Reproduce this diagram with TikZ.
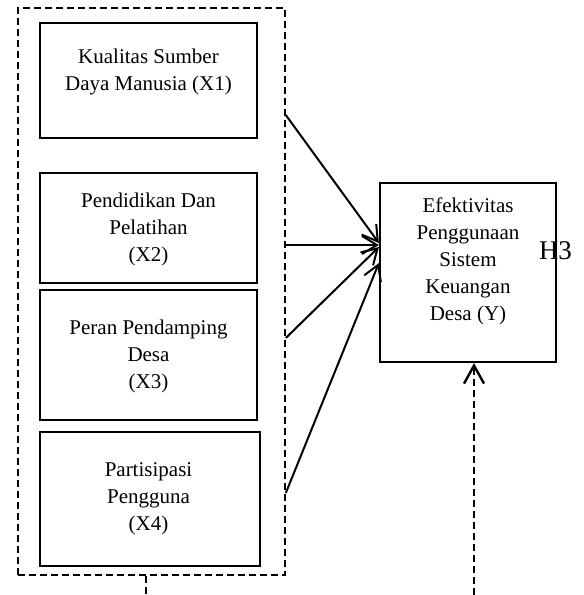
\documentclass[tikz,border=0pt]{standalone}
\usepackage{fontspec}
\setmainfont{Liberation Serif}
\usetikzlibrary{arrows.meta,positioning}
\tikzset{
  varbox/.style={draw, line width=2.2pt, minimum width=217pt, inner sep=0pt},
  vartext/.style={align=center, inner sep=0pt, font=\fontsize{21}{27}\selectfont},
  link/.style={line width=2pt, -{Straight Barb[length=15pt,width=18pt,line width=2pt]}},
  grpline/.style={line width=1.6pt, dash pattern=on 7pt off 4pt}
}
\begin{document}
\begin{tikzpicture}[x=1pt,y=-1pt]
        \useasboundingbox (0,0) rectangle (584,595);
        \node[draw, grpline, minimum width=267pt, minimum height=567pt] (grp) at (151.5,291.5) {};
        \node[varbox, minimum height=115pt] (x1) at (148.5,80.5) {};
        \node[vartext] (x1t) at (148.5,72) {Kualitas Sumber\\Daya Manusia (X1)};
        \node[varbox, minimum height=110pt] (x2) at (148.5,228) {};
        \node[vartext] (x2t) at (148.5,229) {Pendidikan Dan\\Pelatihan\\(X2)};
        \node[varbox, minimum height=130pt] (x3) at (148.5,355) {};
        \node[vartext] (x3t) at (148.5,356) {Peran Pendamping\\Desa\\(X3)};
        \node[varbox, minimum width=220pt, minimum height=134pt] (x4) at (150,499) {};
        \node[vartext] (x4t) at (148.5,499) {Partisipasi\\Pengguna\\(X4)};
        \node[varbox, minimum width=176pt, minimum height=179pt] (y) at (468,272.5) {};
        \node[vartext] (yt) at (468,261) {Efektivitas\\Penggunaan\\Sistem\\Keuangan\\Desa (Y)};
        \node[inner sep=0pt, font=\fontsize{27}{30}\selectfont] (h3) at (555.5,251) {H3};
        % panah X ke Y
        \coordinate (s1) at (grp.east |- 0,115);
        \coordinate (s2) at (grp.east |- 0,245);
        \coordinate (s3) at (grp.east |- 0,338);
        \coordinate (s4) at (grp.east |- 0,493);
        \draw[link] (s1) -- (y.west |- 0,243);
        \draw[link] (s2) -- (y.west |- 0,245);
        \draw[link] (s3) -- (y.west |- 0,247);
        \draw[link] (s4) -- (y.west |- 0,263);
        % garis putus-putus bawah
        \coordinate (b) at (474,595);
        \draw[grpline, line width=2.4pt, -{Straight Barb[length=18pt,width=20pt,line width=2.4pt]}] (b) -- (y.south -| b);
        \coordinate (g1) at (grp.south -| 146,0);
        \coordinate (g2) at (146,595);
        \draw[grpline] (g1) -- (g2);
      \end{tikzpicture}
\end{document}
